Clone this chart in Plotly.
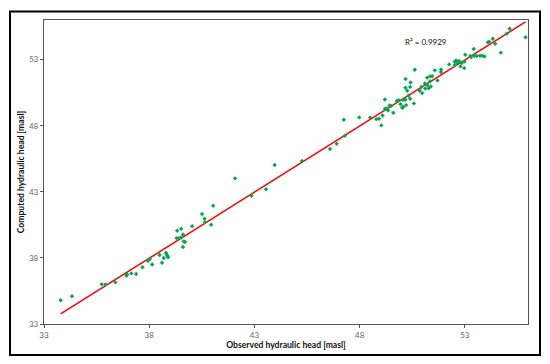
import plotly.graph_objects as go
import numpy as np

observed = [33.79, 34.33, 35.74, 35.91, 36.39, 36.92, 36.95, 37.15, 37.38, 37.68,
            37.94, 38.03, 38.14, 38.49, 38.61, 38.69, 38.79, 38.83, 38.87, 38.90,
            39.30, 39.33, 39.40, 39.52, 39.52, 39.60, 39.61, 39.64, 39.70, 40.04,
            40.51, 40.63, 40.65, 40.94, 41.04, 42.08, 42.86, 43.55, 43.96, 45.26,
            46.59, 46.91, 47.25, 47.30, 47.98, 48.50, 48.79, 48.92, 49.03, 49.09,
            49.20, 49.20, 49.29, 49.35, 49.42, 49.50, 49.60, 49.77, 49.85, 49.94,
            50.02, 50.06, 50.07, 50.17, 50.18, 50.18, 50.21, 50.26, 50.32, 50.40,
            50.40, 50.42, 50.58, 50.62, 50.85, 50.93, 50.97, 51.10, 51.12, 51.21,
            51.21, 51.28, 51.35, 51.35, 51.45, 51.38, 51.57, 51.70, 51.86, 51.87,
            52.25, 52.52, 52.52, 52.58, 52.63, 52.68, 52.72, 52.79, 52.85, 52.97,
            52.98, 53.02, 53.26, 53.30, 53.42, 53.45, 53.56, 53.72, 53.82, 53.93,
            54.09, 54.15, 54.33, 54.44, 54.71, 54.99, 55.13, 55.88]
computed = [34.80, 35.10, 36.00, 36.00, 36.15, 36.65, 36.75, 36.83, 36.78, 37.29,
            37.79, 37.92, 37.50, 38.22, 37.64, 37.99, 38.39, 38.25, 38.12, 38.05,
            39.50, 40.06, 39.50, 40.20, 39.55, 38.82, 39.78, 39.25, 39.20, 40.39,
            41.32, 40.97, 40.70, 40.51, 41.95, 44.02, 42.70, 43.19, 45.03, 45.33,
            46.24, 46.64, 48.45, 47.24, 48.63, 48.63, 48.50, 48.53, 48.03, 48.78,
            49.99, 49.28, 49.31, 49.16, 49.54, 49.50, 48.98, 49.87, 49.94, 49.62,
            49.36, 49.97, 49.44, 49.97, 51.53, 50.87, 49.56, 50.65, 50.27, 50.94,
            50.04, 51.27, 49.69, 52.24, 50.65, 50.93, 50.47, 51.20, 50.82, 51.64,
            51.08, 50.84, 51.36, 51.74, 51.74, 50.97, 52.19, 51.43, 52.06, 52.26,
            52.64, 52.84, 52.59, 52.94, 52.79, 52.82, 52.90, 52.49, 52.75, 52.36,
            52.86, 53.37, 53.27, 53.19, 53.80, 53.30, 53.27, 53.29, 53.29, 53.24,
            54.31, 54.36, 54.58, 54.20, 53.53, 54.96, 55.34, 54.69]

trend_slope = 1.0
trend_intercept = -0.03
r2_label = "R² = 0.9929"
tick_vals = [33, 38, 43, 48, 53]
axis_range = [33, 56]

trend_x = np.array([min(observed), max(observed)])
trend_y = trend_slope * trend_x + trend_intercept

fig = go.Figure()
fig.add_trace(go.Scatter(x=trend_x, y=trend_y, mode="lines",
                         line=dict(color="#ff0000", width=1.5), showlegend=False,
                         hoverinfo="skip"))
fig.add_trace(go.Scatter(x=observed, y=computed, mode="markers",
                         marker=dict(color="#00a850", size=3.4, symbol="diamond",
                                     line=dict(width=0)),
                         showlegend=False))

font_family = "Lato, Open Sans, sans-serif"
axis_common = dict(range=axis_range, tickvals=tick_vals, showgrid=False, zeroline=False,
                   showline=True, linecolor="#555555", linewidth=1.3, mirror=True,
                   ticks="outside", ticklen=3, tickcolor="#555555", tickwidth=1,
                   tickfont=dict(family=font_family, size=8, color="#666666"))

# page body has an 8px margin, so the figure is 534x348 and offset by 8px
W, H = 534, 348
L, R, T, B = 36, 14, 11.5, 32
pw, ph = W - L - R, H - T - B

fig.update_layout(
    width=W, height=H,
    margin=dict(l=L, r=R, t=T, b=B, autoexpand=False),
    paper_bgcolor="white", plot_bgcolor="white",
    xaxis=dict(**axis_common,
               title=dict(text="<b>Observed hydraulic head [masl]</b>", standoff=3,
                          font=dict(family=font_family, size=8.6, color="#111111"))),
    yaxis=dict(**axis_common,
               title=dict(text="<b>Computed hydraulic head [masl]</b>", standoff=2,
                          font=dict(family=font_family, size=8.6, color="#111111"))),
    shapes=[dict(type="rect", xref="paper", yref="paper",
                 x0=(2 - L) / pw, x1=(532 - L) / pw,
                 y0=-(347 - (H - B)) / ph, y1=((H - B) - 3) / ph,
                 line=dict(color="black", width=2), fillcolor="rgba(0,0,0,0)",
                 layer="below")],
    annotations=[dict(text=r2_label, x=51.15, y=54.35, xref="x", yref="y",
                      showarrow=False, font=dict(family=font_family, size=8, color="#111111"))],
)

fig.write_html("out.html")
